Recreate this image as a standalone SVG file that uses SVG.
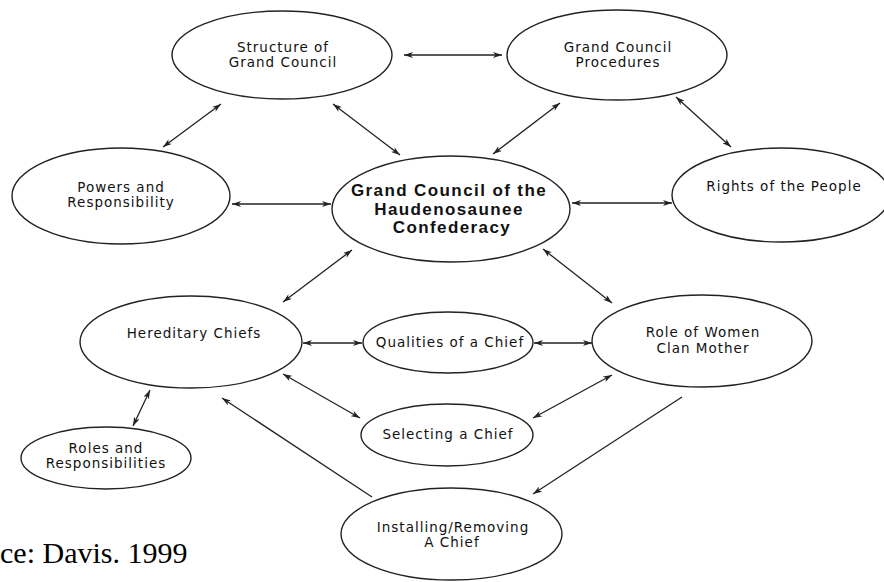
<svg xmlns="http://www.w3.org/2000/svg" width="884" height="582" viewBox="0 0 884 582">
<style>
.n ellipse{fill:#fff;stroke:#222;stroke-width:1.4}
.n text{font-family:"DejaVu Sans",sans-serif;font-size:13.5px;letter-spacing:1px;fill:#111;text-anchor:middle}
.n text.b{font-family:"Liberation Sans",Arial,sans-serif;font-weight:bold;font-size:17px;letter-spacing:1.4px}
#edges line{stroke:#222;stroke-width:1.3;fill:none}
.d{marker-start:url(#ah);marker-end:url(#ah)}
.s{marker-end:url(#ah)}
</style>
<defs>
<marker id="ah" viewBox="0 0 9 6" refX="9" refY="3" markerWidth="9" markerHeight="6" orient="auto-start-reverse" markerUnits="userSpaceOnUse">
<path d="M0,0 L9,3 L0,6 L2.5,3 z" fill="#222"/>
</marker>
</defs>
<rect width="884" height="582" fill="#fff"/>
<g id="edges">
<line class="d" x1="404" y1="55" x2="502" y2="55"/>
<line class="d" x1="163" y1="147" x2="221" y2="104"/>
<line class="d" x1="333" y1="104" x2="400" y2="155"/>
<line class="d" x1="560" y1="103" x2="493" y2="154"/>
<line class="d" x1="676" y1="97" x2="731" y2="147"/>
<line class="d" x1="232" y1="204" x2="331" y2="204"/>
<line class="d" x1="572" y1="203" x2="672" y2="203"/>
<line class="d" x1="352" y1="250" x2="283" y2="302"/>
<line class="d" x1="543" y1="249" x2="612" y2="303"/>
<line class="d" x1="303" y1="343" x2="362" y2="343"/>
<line class="d" x1="534" y1="343" x2="592" y2="343"/>
<line class="d" x1="283" y1="374" x2="360" y2="418"/>
<line class="d" x1="612" y1="375" x2="533" y2="418"/>
<line class="d" x1="150" y1="390" x2="133" y2="426"/>
<line class="s" x1="372" y1="497" x2="222" y2="398"/>
<line class="s" x1="682" y1="397" x2="533" y2="494"/>
</g>
<g id="structure" class="n">
<ellipse cx="282" cy="55" rx="110" ry="44"/>
<text x="283" y="52">Structure of</text>
<text x="283" y="67">Grand Council</text>
</g>
<g id="procedures" class="n">
<ellipse cx="617" cy="55" rx="110" ry="45"/>
<text x="618" y="52">Grand Council</text>
<text x="618" y="67">Procedures</text>
</g>
<g id="powers" class="n">
<ellipse cx="121" cy="196" rx="109" ry="48"/>
<text x="121" y="192">Powers and</text>
<text x="121" y="207">Responsibility</text>
</g>
<g id="center" class="n">
<ellipse cx="451" cy="209" rx="119" ry="53"/>
<text class="b" x="449" y="196">Grand Council of the</text>
<text class="b" x="449" y="214.5">Haudenosaunee</text>
<text class="b" x="452" y="233">Confederacy</text>
</g>
<g id="rights" class="n">
<ellipse cx="781" cy="195" rx="109" ry="47"/>
<text x="784" y="191">Rights of the People</text>
</g>
<g id="hereditary" class="n">
<ellipse cx="191" cy="342" rx="111" ry="46"/>
<text x="194" y="338">Hereditary Chiefs</text>
</g>
<g id="qualities" class="n">
<ellipse cx="448" cy="342.5" rx="85" ry="30.5"/>
<text x="450" y="347">Qualities of a Chief</text>
</g>
<g id="role" class="n">
<ellipse cx="702" cy="341" rx="110" ry="46"/>
<text x="703" y="337">Role of Women</text>
<text x="703" y="353">Clan Mother</text>
</g>
<g id="selecting" class="n">
<ellipse cx="447" cy="435" rx="86" ry="31"/>
<text x="448" y="439">Selecting a Chief</text>
</g>
<g id="roles" class="n">
<ellipse cx="106" cy="458" rx="85" ry="31"/>
<text x="106" y="453">Roles and</text>
<text x="106" y="468">Responsibilities</text>
</g>
<g id="installing" class="n">
<ellipse cx="451.5" cy="534" rx="110.5" ry="46"/>
<text x="453" y="532">Installing/Removing</text>
<text x="452" y="547">A Chief</text>
</g>
<text x="0" y="563" font-family="Liberation Serif, 'Times New Roman', serif" font-size="30" fill="#000">ce: Davis. 1999</text>
</svg>
